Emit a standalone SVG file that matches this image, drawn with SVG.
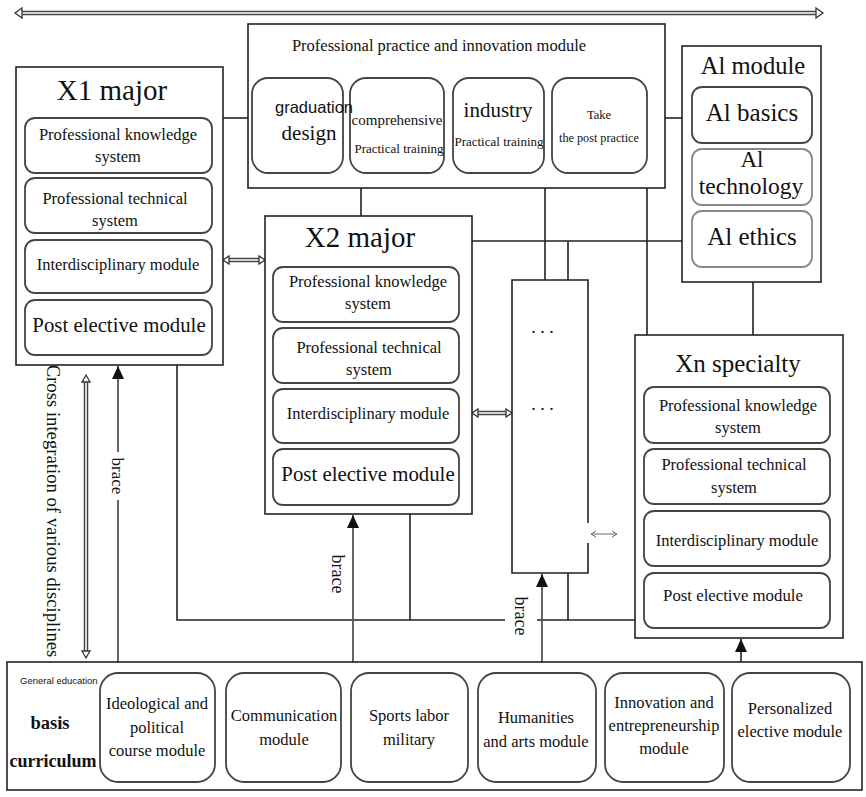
<svg xmlns="http://www.w3.org/2000/svg" width="866" height="797" viewBox="0 0 866 797">
<style>
text{font-family:"Liberation Serif","Times New Roman",serif;fill:#111}
text.sans{font-family:"Liberation Sans",Arial,sans-serif}
.box{fill:#fff;stroke:#222;stroke-width:1.6}
.sub{fill:#fff;stroke:#444;stroke-width:1.8}
.subg{fill:#fff;stroke:#888;stroke-width:1.8}
.ln{stroke:#222;stroke-width:1.6;fill:none}
.gl{stroke:#555;stroke-width:1.8;fill:none}
.dO{stroke:#444;stroke-width:4.5;fill:none}
.dI{stroke:#fff;stroke-width:1.6;fill:none}
.hd{fill:#fff;stroke:#333;stroke-width:1.3}
.c{text-anchor:middle}
</style>
<defs>
<marker id="tri" markerWidth="13" markerHeight="12" refX="13" refY="6" orient="auto" markerUnits="userSpaceOnUse" viewBox="0 0 13 12">
<path d="M0,0 L13,6 L0,12 Z" fill="#111"/>
</marker>
</defs>
<rect width="866" height="797" fill="#fff"/>

<g id="connectors">
<line class="dO" x1="22" y1="13" x2="817" y2="13"/>
<line class="dI" x1="20" y1="13" x2="819" y2="13"/>
<polygon class="hd" points="15,13 22,8 22,18"/>
<polygon class="hd" points="823,13 816,8 816,18"/>
<line class="ln" x1="223" y1="118" x2="248" y2="118"/>
<line class="ln" x1="665" y1="118" x2="682" y2="118"/>
<line class="ln" x1="361" y1="188" x2="361" y2="216"/>
<line class="ln" x1="545" y1="188" x2="545" y2="280"/>
<line class="ln" x1="647" y1="188" x2="647" y2="335"/>
<line class="ln" x1="472" y1="241" x2="682" y2="241"/>
<line class="ln" x1="568" y1="241" x2="568" y2="280"/>
<line class="ln" x1="753" y1="282" x2="753" y2="335"/>
<polyline class="ln" points="177,365 177,620 505,620"/>
<line class="ln" x1="537" y1="620" x2="635" y2="620"/>
<line class="ln" x1="410" y1="514" x2="410" y2="620"/>
<line class="ln" x1="568" y1="573" x2="568" y2="620"/>
<line class="dO" x1="228" y1="260" x2="260" y2="260"/>
<line class="dI" x1="226" y1="260" x2="262" y2="260"/>
<polygon class="hd" points="223,260 229,256 229,264"/>
<polygon class="hd" points="265,260 259,256 259,264"/>
<line class="dO" x1="477" y1="413" x2="507" y2="413"/>
<line class="dI" x1="475" y1="413" x2="509" y2="413"/>
<polygon class="hd" points="472,413 478,409 478,417"/>
<polygon class="hd" points="512,413 506,409 506,417"/>
<line x1="592" y1="534" x2="616" y2="534" stroke="#666" stroke-width="1"/>
<polyline points="596,531 591,534 596,537" fill="none" stroke="#666" stroke-width="1"/>
<polyline points="612,531 617,534 612,537" fill="none" stroke="#666" stroke-width="1"/>
<line class="dO" x1="86" y1="381" x2="86" y2="652"/>
<line class="dI" x1="86" y1="379" x2="86" y2="654"/>
<polygon class="hd" points="86,375 82,382 90,382"/>
<polygon class="hd" points="86,658 82,651 90,651"/>
<line class="gl" x1="118" y1="662" x2="118" y2="366" marker-end="url(#tri)"/>
<line class="gl" x1="353" y1="662" x2="353" y2="515" marker-end="url(#tri)"/>
<line class="gl" x1="542" y1="662" x2="542" y2="574" marker-end="url(#tri)"/>
<line class="ln" x1="741" y1="662" x2="741" y2="639" marker-end="url(#tri)"/>
<rect x="109" y="452" width="18" height="48" fill="#fff"/>
<text transform="translate(112,476) rotate(90)" class="c" font-size="17">brace</text>
<text transform="translate(332,574) rotate(90)" class="c" font-size="18">brace</text>
<text transform="translate(515,616) rotate(90)" class="c" font-size="18">brace</text>
<text transform="translate(47,511) rotate(90)" class="c" font-size="18.7">Cross integration of various disciplines</text>
</g>

<g id="practice">
<rect class="box" x="248" y="24" width="417" height="164"/>
<text x="439" y="51" class="c" font-size="16.5">Professional practice and innovation module</text>
<rect class="sub" x="252" y="78" width="91" height="95" rx="16"/>
<rect class="sub" x="350" y="78" width="94" height="95" rx="16"/>
<rect class="sub" x="453" y="78" width="91" height="95" rx="16"/>
<rect class="sub" x="552" y="78" width="95" height="95" rx="16"/>
<text x="275" y="113" class="sans" font-size="16.5">graduation</text>
<text x="309" y="140" class="c" font-size="21">design</text>
<text x="397" y="125" class="c" font-size="15">comprehensive</text>
<text x="399" y="153" class="c" font-size="13">Practical training</text>
<text x="498" y="117" class="c" font-size="21">industry</text>
<text x="499" y="146" class="c" font-size="13">Practical training</text>
<text x="599" y="119" class="c" font-size="12.5">Take</text>
<text x="599" y="142" class="c" font-size="12.2">the post practice</text>
</g>

<g id="x1">
<rect class="box" x="16" y="67" width="207" height="298"/>
<text x="112" y="100" class="c" font-size="29">X1 major</text>
<rect class="sub" x="25" y="118" width="187" height="55" rx="10"/>
<rect class="sub" x="25" y="178" width="187" height="55" rx="10"/>
<rect class="sub" x="25" y="240" width="187" height="53" rx="10"/>
<rect class="sub" x="25" y="300" width="187" height="55" rx="10"/>
<text x="118" y="140" class="c" font-size="16.5">Professional knowledge</text>
<text x="118" y="162" class="c" font-size="16.5">system</text>
<text x="115" y="204" class="c" font-size="16.5">Professional technical</text>
<text x="115" y="226" class="c" font-size="16.5">system</text>
<text x="118" y="270" class="c" font-size="16.5">Interdisciplinary module</text>
<text x="119" y="332" class="c" font-size="20.8">Post elective module</text>
</g>

<g id="x2">
<rect class="box" x="265" y="216" width="207" height="298"/>
<text x="360" y="247" class="c" font-size="29">X2 major</text>
<rect class="sub" x="273" y="267" width="186" height="55" rx="10"/>
<rect class="sub" x="273" y="328" width="186" height="55" rx="10"/>
<rect class="sub" x="273" y="389" width="186" height="54" rx="10"/>
<rect class="sub" x="273" y="449" width="186" height="56" rx="10"/>
<text x="368" y="287" class="c" font-size="16.5">Professional knowledge</text>
<text x="368" y="309" class="c" font-size="16.5">system</text>
<text x="369" y="353" class="c" font-size="16.5">Professional technical</text>
<text x="369" y="375" class="c" font-size="16.5">system</text>
<text x="368" y="419" class="c" font-size="16.5">Interdisciplinary module</text>
<text x="368" y="481" class="c" font-size="20.8">Post elective module</text>
</g>

<g id="dots">
<path class="ln" d="M588,523 V280 H512 V573 H588 V543"/>
<text x="544" y="338" class="c" font-size="18" letter-spacing="3">···</text>
<text x="544" y="415" class="c" font-size="18" letter-spacing="3">···</text>
</g>

<g id="ai">
<rect class="box" x="682" y="46" width="139" height="236"/>
<text x="753" y="74" class="c" font-size="24.6">Al module</text>
<rect class="sub" x="692" y="87" width="120" height="56" rx="10"/>
<rect class="subg" x="692" y="149" width="120" height="56" rx="10"/>
<rect class="subg" x="692" y="211" width="120" height="56" rx="10"/>
<text x="752" y="121" class="c" font-size="25">Al basics</text>
<text x="752" y="167" class="c" font-size="23">Al</text>
<text x="751" y="194" class="c" font-size="23.5">technology</text>
<text x="752" y="245" class="c" font-size="25">Al ethics</text>
</g>

<g id="xn">
<rect class="box" x="635" y="335" width="208" height="303"/>
<text x="738" y="372" class="c" font-size="25">Xn specialty</text>
<rect class="sub" x="644" y="387" width="186" height="56" rx="10"/>
<rect class="sub" x="644" y="449" width="186" height="55" rx="10"/>
<rect class="sub" x="644" y="511" width="186" height="55" rx="10"/>
<rect class="sub" x="644" y="573" width="186" height="55" rx="10"/>
<text x="738" y="411" class="c" font-size="16.5">Professional knowledge</text>
<text x="738" y="433" class="c" font-size="16.5">system</text>
<text x="734" y="470" class="c" font-size="16.5">Professional technical</text>
<text x="734" y="493" class="c" font-size="16.5">system</text>
<text x="737" y="546" class="c" font-size="16.5">Interdisciplinary module</text>
<text x="733" y="601" class="c" font-size="16.8">Post elective module</text>
</g>

<g id="general">
<rect class="box" x="7" y="662" width="855" height="128"/>
<text x="20" y="684" class="sans" font-size="9.5" fill="#333">General education</text>
<text x="50" y="729" class="c" font-size="18.5" font-weight="bold">basis</text>
<text x="53" y="767" class="c" font-size="18" font-weight="bold">curriculum</text>
<rect class="sub" x="100" y="673" width="115" height="109" rx="18"/>
<rect class="sub" x="226" y="673" width="115" height="109" rx="18"/>
<rect class="sub" x="351" y="673" width="117" height="109" rx="18"/>
<rect class="sub" x="478" y="673" width="118" height="109" rx="18"/>
<rect class="sub" x="605" y="673" width="119" height="109" rx="18"/>
<rect class="sub" x="732" y="673" width="118" height="109" rx="18"/>
<text x="157" y="709" class="c" font-size="16.5">Ideological and</text>
<text x="157" y="733" class="c" font-size="16.5">political</text>
<text x="157" y="756" class="c" font-size="16.5">course module</text>
<text x="284" y="721" class="c" font-size="16.5">Communication</text>
<text x="284" y="745" class="c" font-size="16.5">module</text>
<text x="409" y="721" class="c" font-size="16.5">Sports labor</text>
<text x="409" y="745" class="c" font-size="16.5">military</text>
<text x="536" y="723" class="c" font-size="16.5">Humanities</text>
<text x="536" y="747" class="c" font-size="16.5">and arts module</text>
<text x="664" y="708" class="c" font-size="16.5">Innovation and</text>
<text x="664" y="731" class="c" font-size="16.5">entrepreneurship</text>
<text x="664" y="754" class="c" font-size="16.5">module</text>
<text x="790" y="714" class="c" font-size="16.5">Personalized</text>
<text x="790" y="737" class="c" font-size="16.5">elective module</text>
</g>
</svg>
